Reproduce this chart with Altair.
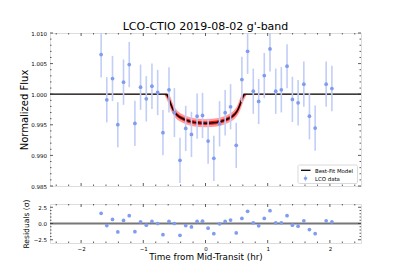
import altair as alt
import pandas as pd

title_text = "LCO-CTIO 2019-08-02 g'-band"

time_hr = [-1.678, -1.587, -1.495, -1.410, -1.318, -1.226, -1.135, -1.044, -0.952, -0.861,
           -0.769, -0.684, -0.587, -0.500, -0.410, -0.318, -0.226, -0.135, -0.048, 0.042,
           0.134, 0.226, 0.316, 0.403, 0.494, 0.585, 0.677, 0.768, 0.855, 0.945,
           1.037, 1.129, 1.219, 1.311, 1.397, 1.489, 1.581, 1.671, 1.763, 1.940, 2.032]
flux = [1.00647, 0.99909, 1.00256, 0.99501, 1.00196, 1.00484, 0.99522, 1.00114, 0.99925, 1.00130,
        1.00028, 0.99371, 1.00072, 0.99700, 0.98919, 0.99441, 0.99343, 0.99641, 0.99653, 0.99234,
        0.98952, 0.99517, 0.99697, 0.99795, 0.99164, 1.00240, 1.00701, 1.00049, 0.99881, 1.00305,
        1.00740, 1.00049, 1.00072, 1.00457, 0.99914, 0.99860, 1.00163, 0.99641, 0.99446, 1.00163, 1.00093]
flux_err = [0.00375, 0.0037, 0.0037, 0.0037, 0.0037, 0.0037, 0.0037, 0.0037, 0.0037, 0.0037,
            0.0037, 0.0037, 0.0037, 0.0040, 0.0037, 0.0037, 0.0037, 0.0037, 0.0037, 0.0037,
            0.0037, 0.0037, 0.0037, 0.0037, 0.0037, 0.0037, 0.0037, 0.0037, 0.0037, 0.0037,
            0.0037, 0.0037, 0.0037, 0.0036, 0.0037, 0.0037, 0.0037, 0.0038, 0.0037, 0.0037, 0.0037]
residual = [1.56, -0.31, 0.63, -1.30, 0.47, 1.20, -1.25, 0.26, -0.26, 0.31,
            0.00, -1.72, 0.31, 0.00, -1.82, -0.31, -0.52, 0.31, 0.36, -0.73,
            -1.56, -0.05, 0.31, 0.52, -1.46, 0.78, 1.88, 0.10, -0.36, 0.78,
            1.98, 0.10, 0.10, 1.20, -0.26, -0.42, 0.42, -0.94, -1.56, 0.42, 0.26]

model_t = [-2.5, -0.66, -0.62, -0.60, -0.58, -0.56, -0.54, -0.52, -0.50, -0.47, -0.44, -0.40,
           -0.35, -0.30, -0.25, -0.18, -0.10, 0.0, 0.10, 0.18, 0.25, 0.30, 0.35, 0.40,
           0.44, 0.47, 0.50, 0.52, 0.54, 0.56, 0.58, 0.60, 0.62, 0.66, 2.5]
model_flux = [1.0, 1.0, 1.0, 0.99955, 0.9990, 0.99845, 0.9979, 0.99745, 0.9971, 0.99672, 0.99645, 0.99618,
              0.99592, 0.99572, 0.99556, 0.99540, 0.99530, 0.99525, 0.99530, 0.99540, 0.99556, 0.99572, 0.99592, 0.99618,
              0.99645, 0.99672, 0.9971, 0.99745, 0.9979, 0.99845, 0.9990, 0.99955, 1.0, 1.0, 1.0]
band_lo = [1.0, 0.9999, 0.9991, 0.9986, 0.9980, 0.99745, 0.9970, 0.99665, 0.99635, 0.9960, 0.99575, 0.99550,
           0.99525, 0.99505, 0.9949, 0.99474, 0.99464, 0.9946, 0.99464, 0.99474, 0.9949, 0.99505, 0.99525, 0.99550,
           0.99575, 0.9960, 0.99635, 0.99665, 0.9970, 0.99745, 0.9980, 0.9986, 0.9991, 0.9999, 1.0]
band_hi = [1.0, 1.0, 1.0, 1.0, 0.9999, 0.99945, 0.9989, 0.99835, 0.9979, 0.9975, 0.99718, 0.99688,
           0.99660, 0.9964, 0.99623, 0.99607, 0.99597, 0.9959, 0.99597, 0.99607, 0.99623, 0.9964, 0.99660, 0.99688,
           0.99718, 0.9975, 0.9979, 0.99835, 0.9989, 0.99945, 0.9999, 1.0, 1.0, 1.0, 1.0]

x_major = [-2, -1, 0, 1, 2]
x_minor = [-2.4, -2.2, -1.8, -1.6, -1.4, -1.2, -0.8, -0.6, -0.4, -0.2,
           0.2, 0.4, 0.6, 0.8, 1.2, 1.4, 1.6, 1.8, 2.2, 2.4]
flux_major = [0.985, 0.990, 0.995, 1.000, 1.005, 1.010]
flux_minor = [0.986, 0.987, 0.988, 0.989, 0.991, 0.992, 0.993, 0.994, 0.996, 0.997,
              0.998, 0.999, 1.001, 1.002, 1.003, 1.004, 1.006, 1.007, 1.008, 1.009]
res_major = [-2.5, 0.0, 2.5]
res_minor = [-2.0, -1.5, -1.0, -0.5, 0.5, 1.0, 1.5, 2.0]
legend_labels = ["Best-Fit Model", "LCO data"]

W, H1, H2 = 311, 153, 39
FONT = "DejaVu Sans"
PT_COLOR = "#7f9cf0"
ERR_COLOR = "#c2cef6"
FRAME = "#333333"

pts = pd.DataFrame({"t": time_hr, "f": flux, "e": flux_err, "r": residual})
pts["lo"] = pts["f"] - pts["e"]
pts["hi"] = pts["f"] + pts["e"]

mod = pd.DataFrame({"t": model_t, "m": model_flux, "blo": band_lo, "bhi": band_hi})
mod["ilo"] = mod["m"] - 0.45 * (mod["m"] - mod["blo"])
mod["ihi"] = mod["m"] + 0.45 * (mod["bhi"] - mod["m"])

xs = alt.Scale(domain=[-2.5, 2.5], nice=False, zero=False)
ys = alt.Scale(domain=[0.985, 1.010], nice=False, zero=False)
rs = alt.Scale(domain=[-3, 3], nice=False, zero=False)

y_axis_top = alt.Axis(values=flux_major, format=".3f", labelFontSize=5.5, ticks=False, tickSize=0,
                      domain=False, grid=False, labelPadding=3.5, title="Normalized Flux",
                      titleFontSize=10, titleFontWeight="normal", titleX=-22.6, titleY=H1 / 2,
                      titleBaseline="alphabetic", titleAngle=270, labelColor="black", titleColor="black")

X_top = alt.X("t:Q", scale=xs, axis=None)
Y_top = lambda f: alt.Y(f, scale=ys, axis=y_axis_top)

band_outer = alt.Chart(mod).mark_area(color="#ff2020", opacity=0.45, clip=True).encode(
    x=X_top, y=Y_top("blo:Q"), y2="bhi:Q")
band_inner = alt.Chart(mod).mark_area(color="#e00000", opacity=0.85, clip=True).encode(
    x=X_top, y=Y_top("ilo:Q"), y2="ihi:Q")
model_line = alt.Chart(mod).mark_line(color="black", strokeWidth=1.3, clip=True).encode(
    x=X_top, y=Y_top("m:Q"))
errbars = alt.Chart(pts).mark_rule(color=ERR_COLOR, strokeWidth=1.6, clip=True).encode(
    x=X_top, y=Y_top("lo:Q"), y2="hi:Q")
points = alt.Chart(pts).mark_circle(color=PT_COLOR, size=14, opacity=1, clip=True).encode(
    x=X_top, y=Y_top("f:Q"))


def xticks(vals, length, H, scale, axis=None):
    d = pd.DataFrame({"v": vals})
    ax = alt.X("v:Q", scale=scale, axis=axis)
    bot = alt.Chart(d).mark_rule(color=FRAME, strokeWidth=0.8).encode(
        x=ax, y=alt.value(H - length), y2=alt.value(H))
    top = alt.Chart(d).mark_rule(color=FRAME, strokeWidth=0.8).encode(
        x=ax, y=alt.value(0), y2=alt.value(length))
    return [bot, top]


def yticks(vals, length, scale, axis):
    d = pd.DataFrame({"v": vals})
    ay = alt.Y("v:Q", scale=scale, axis=axis)
    left = alt.Chart(d).mark_rule(color=FRAME, strokeWidth=0.8).encode(
        y=ay, x=alt.value(0), x2=alt.value(length))
    right = alt.Chart(d).mark_rule(color=FRAME, strokeWidth=0.8).encode(
        y=ay, x=alt.value(W - length), x2=alt.value(W))
    return [left, right]


# legend (decoration)
leg_df = pd.DataFrame({"label": legend_labels})
lx0, lx1, ly0, ly1 = 248, 307.5, 132, 150.5
leg_box = alt.Chart(leg_df.head(1)).mark_rect(fill="white", stroke="#cccccc", strokeWidth=0.8,
                                               cornerRadius=1.5, opacity=0.9).encode(
    x=alt.value(lx0), x2=alt.value(lx1), y=alt.value(ly0), y2=alt.value(ly1))
leg_line = alt.Chart(leg_df.head(1)).mark_rule(color="black", strokeWidth=1.3).encode(
    x=alt.value(251), x2=alt.value(260.5), y=alt.value(137.3))
leg_err = alt.Chart(leg_df.head(1)).mark_rule(color=ERR_COLOR, strokeWidth=1.2).encode(
    x=alt.value(255.5), y=alt.value(142.3), y2=alt.value(148.3))
leg_pt = alt.Chart(leg_df.head(1)).mark_circle(color=PT_COLOR, size=10, opacity=1).encode(
    x=alt.value(255.5), y=alt.value(145.3))
leg_t1 = alt.Chart(leg_df.head(1)).mark_text(align="left", baseline="middle", fontSize=5.4,
                                             font=FONT, color="black").encode(
    x=alt.value(265), y=alt.value(137.5), text="label:N")
leg_t2 = alt.Chart(leg_df.tail(1)).mark_text(align="left", baseline="middle", fontSize=5.4,
                                             font=FONT, color="black").encode(
    x=alt.value(265), y=alt.value(145.5), text="label:N")

top_layers = [band_outer, band_inner, model_line, errbars, points]
top_layers += xticks(x_major, 3, H1, xs) + xticks(x_minor, 1.5, H1, xs)
top_layers += yticks(flux_major, 3, ys, y_axis_top) + yticks(flux_minor, 1.5, ys, y_axis_top)
top_layers += [leg_box, leg_line, leg_err, leg_pt, leg_t1, leg_t2]

top = alt.layer(*top_layers).properties(
    width=W, height=H1,
    title=alt.TitleParams(title_text, fontSize=11, fontWeight="normal", font=FONT,
                          offset=0, dy=1, anchor="middle", color="black"))

# residual panel
x_axis_bot = alt.Axis(values=x_major, format="d", labelFontSize=5.5, ticks=False, tickSize=0,
                      domain=False, grid=False, labelPadding=3.0, title="Time from Mid-Transit (hr)",
                      titleFontSize=8.8, titleFontWeight="normal", titlePadding=0.5,
                      labelColor="black", titleColor="black")
y_axis_bot = alt.Axis(values=res_major, format=".1f", labelFontSize=5.5, ticks=False, tickSize=0,
                      domain=False, grid=False, labelPadding=3.5, title="Residuals (σ)",
                      titleFontSize=7.6, titleFontWeight="normal", titleX=-22.0, titleY=H2 / 2,
                      titleBaseline="alphabetic", titleAngle=270, labelColor="black", titleColor="black")

Xb = alt.X("t:Q", scale=xs, axis=x_axis_bot)
zero_df = pd.DataFrame({"v": [0.0]})
zero_line = alt.Chart(zero_df).mark_rule(color="#777777", strokeWidth=1.8).encode(
    y=alt.Y("v:Q", scale=rs, axis=y_axis_bot), x=alt.value(0), x2=alt.value(W))
res_pts = alt.Chart(pts).mark_circle(color=PT_COLOR, size=14, opacity=1).encode(
    x=Xb, y=alt.Y("r:Q", scale=rs, axis=y_axis_bot))

bot_layers = [zero_line, res_pts]
bot_layers += xticks(x_major, 3, H2, xs, x_axis_bot) + xticks(x_minor, 1.5, H2, xs, x_axis_bot)
bot_layers += yticks(res_major, 3, rs, y_axis_bot) + yticks(res_minor, 1.5, rs, y_axis_bot)

bottom = alt.layer(*bot_layers).properties(width=W, height=H2)

chart = alt.vconcat(top, bottom, spacing=8).properties(
    padding={"left": 10, "top": 12, "right": 5, "bottom": 5}
).configure_view(stroke=FRAME, strokeWidth=0.9).configure(font=FONT).configure_axis(
    labelFont=FONT, titleFont=FONT)

chart.save("out.html", embed_options={"renderer": "svg", "actions": False})
